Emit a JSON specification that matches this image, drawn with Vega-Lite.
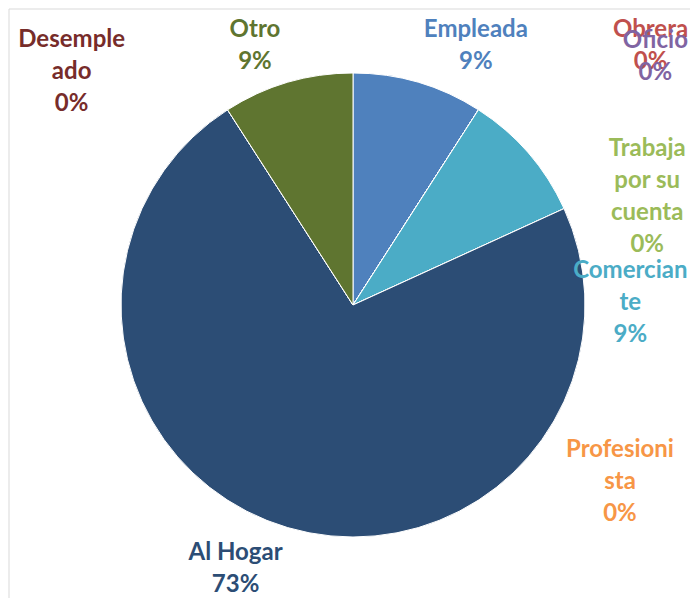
{
  "$schema": "https://vega.github.io/schema/vega-lite/v6.json",
  "width": 688,
  "height": 592,
  "autosize": {"type": "none"},
  "padding": {"left": 9, "top": 9, "right": 0, "bottom": 0},
  "background": "white",
  "config": {"view": {"stroke": null}},
  "layer": [
    {
      "data": {"values": [{"frame": "border"}]},
      "mark": {"type": "rect", "fill": null, "stroke": "#d9d9d9", "strokeWidth": 1},
      "encoding": {}
    },
    {
      "data": {
        "values": [
          {"cat": "Empleada", "value": 1, "idx": 1, "label": "Empleada\n9%"},
          {"cat": "Obrera", "value": 0, "idx": 2, "label": "Obrera\n0%"},
          {"cat": "Oficio", "value": 0, "idx": 3, "label": "Oficio\n0%"},
          {"cat": "Trabaja por su cuenta", "value": 0, "idx": 4, "label": "Trabaja\npor su\ncuenta\n0%"},
          {"cat": "Comerciante", "value": 1, "idx": 5, "label": "Comercian\nte\n9%"},
          {"cat": "Profesionista", "value": 0, "idx": 6, "label": "Profesioni\nsta\n0%"},
          {"cat": "Al Hogar", "value": 8, "idx": 7, "label": "Al Hogar\n73%"},
          {"cat": "Desempleado", "value": 0, "idx": 8, "label": "Desemple\nado\n0%"},
          {"cat": "Otro", "value": 1, "idx": 9, "label": "Otro\n9%"}
        ]
      },
      "encoding": {
        "theta": {"field": "value", "type": "quantitative", "stack": true},
        "order": {"field": "idx", "type": "quantitative"},
        "color": {
          "field": "cat",
          "type": "nominal",
          "legend": null,
          "scale": {
            "domain": ["Empleada", "Obrera", "Oficio", "Trabaja por su cuenta", "Comerciante", "Profesionista", "Al Hogar", "Desempleado", "Otro"],
            "range": ["#4F81BD", "#C0504D", "#8064A2", "#9BBB59", "#4BACC6", "#F79646", "#2C4D75", "#772C2A", "#5F7530"]
          }
        }
      },
      "layer": [
        {"mark": {"type": "arc", "outerRadius": 232, "stroke": "white", "strokeWidth": 1}},
        {"mark": {"type": "text", "radius": 287, "dx": 42, "dy": 0, "font": "Lato", "fontWeight": "bold", "fontSize": 24, "lineBreak": "\n", "lineHeight": 32, "align": "center", "baseline": "middle"},
         "encoding": {"text": {"condition": {"test": "datum.cat === 'Empleada'", "field": "label"}, "value": ""}}},
        {"mark": {"type": "text", "radius": 395, "dx": 84, "dy": 57, "font": "Lato", "fontWeight": "bold", "fontSize": 24, "lineBreak": "\n", "lineHeight": 32, "align": "center", "baseline": "middle"},
         "encoding": {"text": {"condition": {"test": "datum.cat === 'Obrera'", "field": "label"}, "value": ""}}},
        {"mark": {"type": "text", "radius": 391, "dx": 91, "dy": 65, "font": "Lato", "fontWeight": "bold", "fontSize": 24, "lineBreak": "\n", "lineHeight": 32, "align": "center", "baseline": "middle"},
         "encoding": {"text": {"condition": {"test": "datum.cat === 'Oficio'", "field": "label"}, "value": ""}}},
        {"mark": {"type": "text", "radius": 313, "dx": 125, "dy": 107, "font": "Lato", "fontWeight": "bold", "fontSize": 24, "lineBreak": "\n", "lineHeight": 32, "align": "center", "baseline": "middle"},
         "encoding": {"text": {"condition": {"test": "datum.cat === 'Trabaja por su cuenta'", "field": "label"}, "value": ""}}},
        {"mark": {"type": "text", "radius": 277, "dx": 68, "dy": 147, "font": "Lato", "fontWeight": "bold", "fontSize": 24, "lineBreak": "\n", "lineHeight": 32, "align": "center", "baseline": "middle"},
         "encoding": {"text": {"condition": {"test": "datum.cat === 'Comerciante'", "field": "label"}, "value": ""}}},
        {"mark": {"type": "text", "radius": 321, "dx": -25, "dy": 278, "font": "Lato", "fontWeight": "bold", "fontSize": 24, "lineBreak": "\n", "lineHeight": 32, "align": "center", "baseline": "middle"},
         "encoding": {"text": {"condition": {"test": "datum.cat === 'Profesionista'", "field": "label"}, "value": ""}}},
        {"mark": {"type": "text", "radius": 289, "dx": -36, "dy": -29, "font": "Lato", "fontWeight": "bold", "fontSize": 24, "lineBreak": "\n", "lineHeight": 32, "align": "center", "baseline": "middle"},
         "encoding": {"text": {"condition": {"test": "datum.cat === 'Al Hogar'", "field": "label"}, "value": ""}}},
        {"mark": {"type": "text", "radius": 365, "dx": -84, "dy": 42, "font": "Lato", "fontWeight": "bold", "fontSize": 24, "lineBreak": "\n", "lineHeight": 32, "align": "center", "baseline": "middle"},
         "encoding": {"text": {"condition": {"test": "datum.cat === 'Desempleado'", "field": "label"}, "value": ""}}},
        {"mark": {"type": "text", "radius": 277, "dx": -20, "dy": -9, "font": "Lato", "fontWeight": "bold", "fontSize": 24, "lineBreak": "\n", "lineHeight": 32, "align": "center", "baseline": "middle"},
         "encoding": {"text": {"condition": {"test": "datum.cat === 'Otro'", "field": "label"}, "value": ""}}}
      ]
    }
  ]
}
